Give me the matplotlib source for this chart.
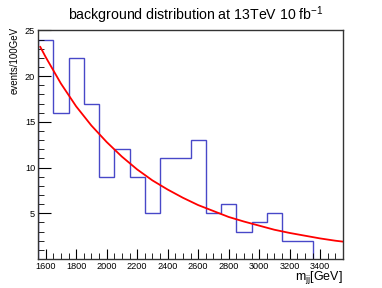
import matplotlib
matplotlib.use("Agg")
import matplotlib.pyplot as plt
from matplotlib.ticker import MultipleLocator
import numpy as np

plt.rcParams['font.family'] = ['Liberation Sans', 'DejaVu Sans']
plt.rcParams['mathtext.fontset'] = 'custom'
plt.rcParams['mathtext.rm'] = 'Liberation Sans'
plt.rcParams['mathtext.it'] = 'Liberation Sans'

# histogram: bin edges (GeV) and counts
bin_edges = [1550, 1650, 1750, 1850, 1950, 2050, 2150, 2250, 2350, 2450, 2550,
             2650, 2750, 2850, 2950, 3050, 3150, 3250, 3350, 3450, 3550]
counts = [24, 16, 22, 17, 9, 12, 9, 5, 11, 11, 13, 5, 6, 3, 4, 5, 2, 2, 0, 0]

# fitted background curve
fit_x = [1565, 1600, 1700, 1800, 1900, 2000, 2100, 2200, 2300, 2400, 2500,
         2600, 2700, 2800, 2900, 3000, 3100, 3200, 3300, 3400, 3500, 3550]
fit_y = [23.2, 22.1, 19.2, 16.7, 14.6, 12.8, 11.2, 9.8, 8.6, 7.6, 6.7,
         5.9, 5.25, 4.6, 4.1, 3.65, 3.2, 2.85, 2.55, 2.25, 2.0, 1.9]

xticks = [1600, 1800, 2000, 2200, 2400, 2600, 2800, 3000, 3200, 3400]
yticks = [5, 10, 15, 20, 25]

W, H = 382, 288
fig = plt.figure(figsize=(W/100, H/100), dpi=100)
ax = fig.add_axes([38/W, 1-259/H, (343-38)/W, (259-30)/H])

edges = np.array(bin_edges)
vals = np.array(counts, dtype=float)
n_nz = int(np.max(np.nonzero(vals)) + 1)
ax.stairs(vals[:n_nz], edges[:n_nz+1], color='#4848c8', linewidth=1.0, baseline=0)
ax.plot(fit_x, fit_y, color='#ff0000', linewidth=1.3)

ax.set_xlim(1550, 3550)
ax.set_ylim(0, 25.05)
ax.set_xticks(xticks)
ax.set_yticks(yticks)
ax.xaxis.set_minor_locator(MultipleLocator(50))
ax.yaxis.set_minor_locator(MultipleLocator(1))
ax.tick_params(axis='both', which='major', direction='in', labelsize=6.6, pad=2)
ax.tick_params(axis='x', which='major', length=7)
ax.tick_params(axis='y', which='major', length=9)
ax.tick_params(axis='both', which='minor', direction='in', length=4)
ax.tick_params(top=False, right=False, which='both')
for s in ax.spines.values():
    s.set_color('#333333')
    s.set_linewidth(1.0)

title = fig.text(68/W, 1-20.5/H, r"background distribution at 13TeV 10 fb$^{\mathregular{-1}}$",
                 ha='left', va='baseline', fontsize=9.5)
ylab = fig.text(15/W, 1-27/H, "events/100GeV", rotation=90, ha='center', va='top', fontsize=7)
xlab = fig.text(343/W, 1-278/H, r"m$_{\mathregular{jj}}$[GeV]", ha='right', va='center', fontsize=8.8)

# fit title size to the measured extent of the reference
fig.canvas.draw()
r = fig.canvas.get_renderer()
bb = title.get_window_extent(r)
title.set_fontsize(9.5 * 258 / bb.width)
bb = xlab.get_window_extent(r)
xlab.set_fontsize(8.8 * 48 / bb.width)

fig.savefig("out.png", dpi=100)
